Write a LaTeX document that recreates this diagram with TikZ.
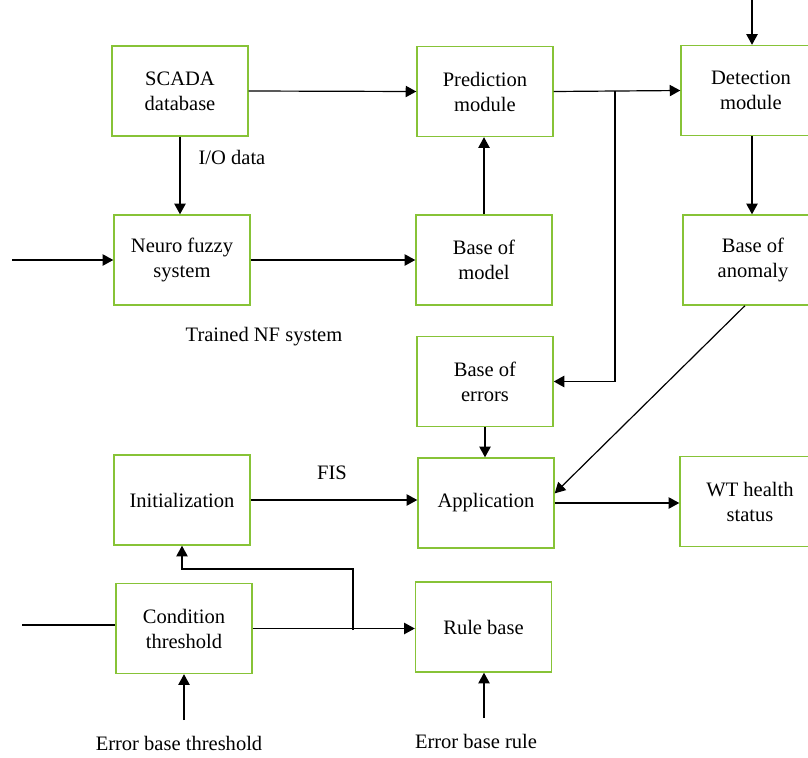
\documentclass[tikz,border=0pt]{standalone}
\usepackage{fontspec}
\setmainfont{Liberation Serif}
\usetikzlibrary{arrows.meta}
\definecolor{boxgreen}{RGB}{135,195,55}
\tikzset{
  block/.style={draw=boxgreen,line width=1pt,minimum width=3.4cm,minimum height=2.25cm,
    align=center,font=\fontsize{14.6}{17.8}\selectfont,inner sep=2pt},
  label/.style={font=\fontsize{14.6}{17.8}\selectfont,inner sep=0pt},
  conn/.style={line width=0.85pt,-{Triangle[length=7.5pt,width=8pt]}},
  plain/.style={line width=0.85pt},
}
\begin{document}
\begin{tikzpicture}[x=0.025cm,y=-0.025cm]
        \useasboundingbox (0,0) rectangle (808,757);
        \clip (0,0) rectangle (808,757);
        % boxes
        \node[block] (scada) at (180,91) {SCADA\\database};
        \node[block] (neuro) at (182,260) {Neuro fuzzy\\system};
        \node[block] (pred) at (485,91.5) {Prediction\\module};
        \node[block] (model) at (484,260) {Base of\\model};
        \node[block,minimum width=3.5cm] (detect) at (751,90.5) {Detection\\module};
        \node[block,minimum width=3.5cm] (anomaly) at (753,260) {Base of\\anomaly};
        \node[block] (errors) at (485,381.5) {Base of\\errors};
        \node[block] (app) at (486,503) {Application};
        \node[block,minimum width=3.5cm] (wt) at (750,501.5) {WT health\\status};
        \node[block] (init) at (182,500) {Initialization};
        \node[block] (cond) at (184,628.5) {Condition\\threshold};
        \node[block] (rule) at (483.5,627) {Rule base};
        % labels
        \node[label] (io) at (232,157) {I/O data};
        \node[label] (trained) at (264,337) {Trained NF system};
        \node[label] (fis) at (332,473) {FIS};
        \node[label] (ebt) at (179,743) {Error base threshold};
        \node[label] (ebr) at (476,741) {Error base rule};
        % free ends
        \coordinate (in1) at (12,260);
        \coordinate (in2) at (22,625);
        \coordinate (top) at (752,0);
        \coordinate (j1) at (615,91);
        \coordinate (j2) at (353,630);
        \coordinate (j3) at (353,569);
        \coordinate (ebtin) at (184,720);
        \coordinate (ebrin) at (484,718);
        % connectors
        \draw[conn] (scada.east) -- (pred.west);
        \draw[conn] (scada.south) -- (scada.south |- neuro.north);
        \draw[conn] (in1) -- (neuro.west);
        \draw[conn] (neuro.east) -- (model.west);
        \draw[conn] (model.north) -- (model.north |- pred.south);
        \draw[conn] (pred.east) -- (detect.west);
        \draw[conn,line width=1.3pt] (j1) |- (errors.east);
        \draw[conn] (top) -- (top |- detect.north);
        \draw[conn] (top |- detect.south) -- (top |- anomaly.north);
        \draw[conn] (anomaly.260) -- (app.8);
        \draw[conn] (errors.south) -- (errors.south |- app.north);
        \draw[conn] (init.east) -- (init.east -| app.west);
        \draw[conn] (app.east) -- (app.east -| wt.west);
        \draw[plain,line width=1.3pt] (in2) -- (in2 -| cond.west);
        \draw[conn] (cond.east) -- (cond.east -| rule.west);
        \draw[conn] (j2) -- (j3) -| (init.south);
        \draw[conn] (ebtin) -- (ebtin |- cond.south);
        \draw[conn] (ebrin) -- (ebrin |- rule.south);
    \end{tikzpicture}
\end{document}
